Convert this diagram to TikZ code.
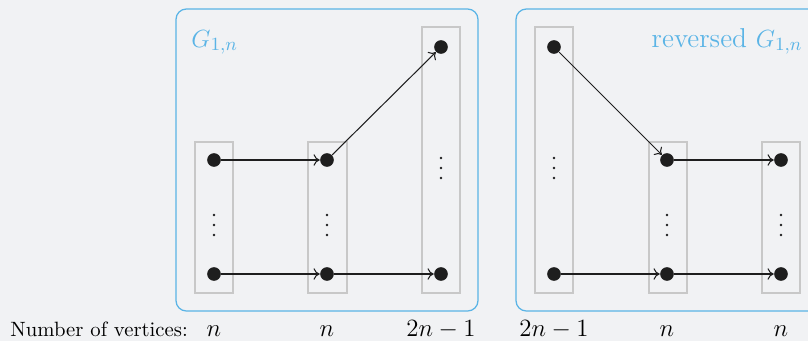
\documentclass[tikz,border=0pt]{standalone}
\usetikzlibrary{arrows.meta}
\definecolor{bg}{RGB}{241,242,244}
\definecolor{lblue}{RGB}{90,180,230}
\definecolor{boxgray}{RGB}{200,200,200}
\definecolor{dotc}{RGB}{30,30,30}
\begin{document}
\begin{tikzpicture}[x=0.483pt,y=-0.483pt,
  vtx/.style={circle,fill=dotc,inner sep=0,minimum size=6.6pt},
  colbox/.style={draw=boxgray,line width=0.6pt},
  panel/.style={draw=lblue,line width=0.6pt,rounded corners=5pt},
  edge/.style={-{To[length=3pt,width=5.5pt]},line width=0.5pt,draw=dotc},
  count/.style={anchor=base,font=\large,inner sep=0},
  ttl/.style={anchor=base,font=\fontsize{13.2}{16}\selectfont,text=lblue,inner sep=0}]
\fill[bg] (0,0) rectangle (808,341);
\useasboundingbox (0,0) rectangle (808,341);
\clip (0,0) rectangle (808,341);
% panels
\draw[panel] (176,9) rectangle (478,311);
\draw[panel] (516,9) rectangle (818,311);
% column boxes, left panel
\draw[colbox] (195,142) rectangle (233,293);
\draw[colbox] (308,142) rectangle (347,293);
\draw[colbox] (422,27) rectangle (460,293);
% column boxes, right panel
\draw[colbox] (535,27) rectangle (573,293);
\draw[colbox] (649,142) rectangle (687,293);
\draw[colbox] (762,142) rectangle (800,293);
% titles
\node[ttl,anchor=base west] (t1) at (191,47) {$G_{1,n}$};
\node[ttl,anchor=base east] (t2) at (803,47) {reversed $G_{1,n}$};
% vertices left
\node[vtx] (a1) at (214,160) {};
\node[vtx] (a2) at (214,274) {};
\node[vtx] (b1) at (327,160) {};
\node[vtx] (b2) at (327,274) {};
\node[vtx] (c1) at (441,47) {};
\node[vtx] (c2) at (441,274) {};
% vertices right
\node[vtx] (d1) at (554,47) {};
\node[vtx] (d2) at (554,274) {};
\node[vtx] (e1) at (667,160) {};
\node[vtx] (e2) at (667,274) {};
\node[vtx] (f1) at (781,160) {};
\node[vtx] (f2) at (781,274) {};
% vertical dots
\foreach \x/\y in {214/225,327/225,441/168,554/168,667/225,781/225}{
  \foreach \d in {-10,0,10}{\fill[dotc] (\x,\y+\d) circle[radius=0.65pt];}}
% edges
\draw[edge] (a1) -- (b1);
\draw[edge] (a2) -- (b2);
\draw[edge] (b1) -- (c1);
\draw[edge] (b2) -- (c2);
\draw[edge] (d1) -- (e1);
\draw[edge] (d2) -- (e2);
\draw[edge] (e1) -- (f1);
\draw[edge] (e2) -- (f2);
% bottom counts
\node[anchor=base west,inner sep=0] (lab) at (10,336) {Number of vertices:};
\node[count] (n1) at (214,336) {$n$};
\node[count] (n2) at (327,336) {$n$};
\node[count] (n3) at (441,336) {$2n-1$};
\node[count] (n4) at (554,336) {$2n-1$};
\node[count] (n5) at (667,336) {$n$};
\node[count] (n6) at (781,336) {$n$};
\end{tikzpicture}
\end{document}
